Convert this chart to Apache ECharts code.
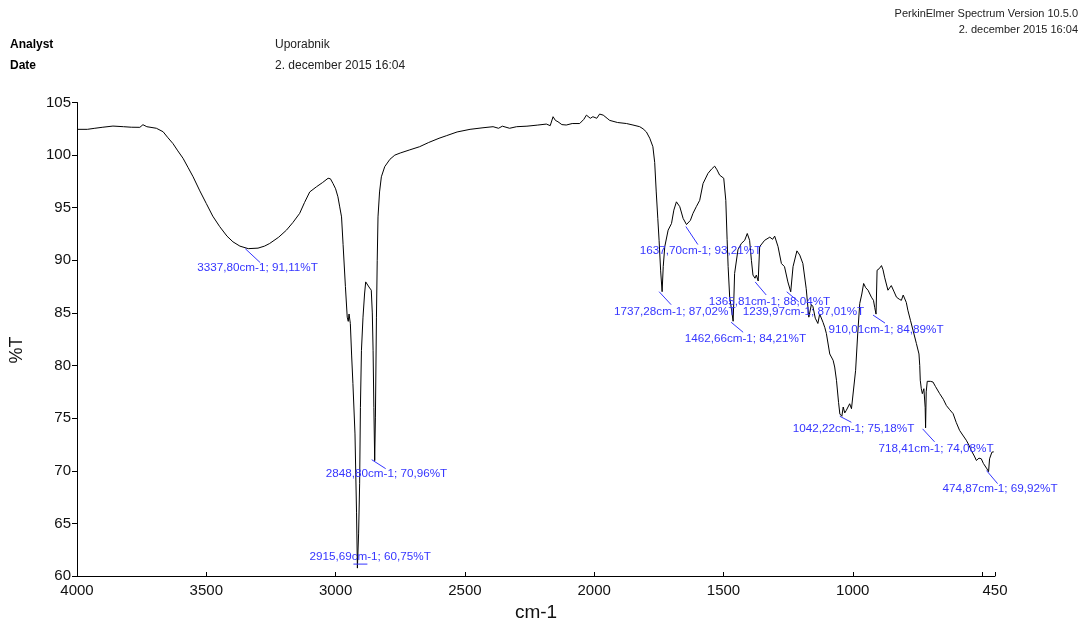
<!DOCTYPE html>
<html>
<head>
<meta charset="utf-8">
<script src="https://cdn.jsdelivr.net/npm/echarts@6/dist/echarts.min.js"></script>
<style>
html,body{margin:0;padding:0;background:#fff;}
#chart{width:1081px;height:618px;}
</style>
</head>
<body>
<div id="chart"></div>
<script>
// Spectrum trace (wavenumber cm-1, %T)
const wavenumbers = [4000,3960,3931,3900,3861,3820,3790,3757,3745,3730,3693,3667,3650,3629,3610,3590,3570,3551,3525,3500,3475,3448,3420,3397,3370,3337.8,3300,3275,3255,3220,3190,3165,3139,3120,3100,3074,3050,3029,3020,3010,3000,2991,2984,2977,2971,2962,2955,2951,2948,2943,2938,2933,2925,2919,2915.69,2911,2907,2904,2900,2894,2888,2883.6,2878.6,2871,2862,2858,2855,2852,2848.8,2846,2842,2839,2836,2830,2823,2810,2790,2771,2750,2713,2675,2640,2600,2572,2530,2480,2430,2391,2370,2355,2327,2300,2260,2220,2185,2170,2159,2150,2140,2125,2108,2085,2056,2040,2030,2015,2005,1990,1979,1965,1950,1940,1910,1875,1850,1824,1811,1798,1785,1773,1766,1760,1754,1749,1743,1737.28,1733,1727,1714,1701,1692,1682,1669,1656,1643,1637.7,1628,1618,1605,1592,1579,1560,1545,1534,1525,1515,1499,1491,1486,1482,1476,1470,1462.66,1460,1457,1444,1431,1418,1408,1399,1392,1386,1378,1373,1365.81,1360,1341,1321,1310,1302,1289,1276,1264,1251,1239.97,1231,1216,1205,1193,1180,1170,1160,1154,1145,1135,1128,1115,1108,1102,1089,1076,1070,1063,1055,1050,1042.22,1037,1031,1025,1018,1012,1005,999,989,981,973,965,958,950,941,928,920,915,910.01,906,898,889,883,877,864,851,840,831,820,812,805,799,793,787,777,767,754,744,741,739,735,731,725,720,718.41,716,712,709,700,690,680,664,650,638,625,612,600,587,575,561,550,542,530,522,512,503,495,481,474.87,471,462,455];
const transmittance = [102.45,102.45,102.55,102.65,102.76,102.7,102.65,102.64,102.89,102.7,102.55,102.22,101.7,101.1,100.4,99.7,98.8,97.94,96.6,95.4,94.2,93.2,92.3,91.76,91.35,91.11,91.16,91.35,91.6,92.2,92.87,93.6,94.46,95.5,96.5,96.99,97.4,97.8,97.75,97.3,96.8,96.04,95.08,94.13,91.5,87.5,84.6,84.2,84.9,84.0,81,78.3,73.5,66,60.75,64,68.77,76,81.45,84.6,86.8,87.95,88.1,87.47,87.16,85,81.45,76,70.96,75.1,84.6,90,94.13,96.5,97.94,98.9,99.6,100,100.2,100.5,100.8,101.2,101.6,101.84,102.2,102.45,102.6,102.7,102.55,102.75,102.55,102.7,102.75,102.85,102.95,102.8,103.65,103.3,103.17,102.9,102.86,103.0,103.0,103.4,103.8,103.5,103.65,103.5,103.9,103.8,103.5,103.3,103.1,103.0,102.86,102.7,102.5,102.2,101.6,100.8,99.3,96.5,94,91.9,89,87.02,89.4,91.3,92.87,93.5,94.77,95.56,95.1,93.98,93.4,93.21,93.8,94.46,95.1,95.7,97.3,98.26,98.7,98.95,98.6,98.1,97.8,95.7,92,89.4,86.5,85.5,84.21,86.2,88.75,91,91.6,91.9,92.55,91.9,90,88.6,88.3,88.6,88.04,91.3,91.9,92.2,92.0,92.3,91.3,89.7,89.4,87.95,87.01,89.4,90.9,90.5,89.7,87.3,84.6,85.8,85.6,84.5,84,84.9,84.1,83.6,83.04,81.1,80.5,79.86,78.6,76.5,75.4,75.18,76.06,75.5,75.74,75.9,76.37,75.9,76.06,79.55,83,85.9,86.8,87.8,87.4,87.16,86.5,86.2,85.5,84.89,89.06,89.2,89.5,89.1,88.4,87.16,87.6,87.0,86.5,86.3,86.2,86.7,86.8,86.0,85.26,84.3,83.35,82.1,81.1,80,78.6,77.8,77.33,77.8,76,74.08,77.5,78.5,78.6,78.5,78.44,78.0,77.33,76.8,76.2,75.8,75.43,74.6,73.84,73.4,72.9,72.4,71.94,71.4,70.98,71.2,71.14,70.7,70.18,69.92,71.14,71.77,71.8];

// Peak annotations
const peakWavenumbers = [3337.80, 2848.80, 2915.69, 1637.70, 1737.28, 1462.66, 1365.81, 1239.97, 910.01, 1042.22, 718.41, 474.87];
const peakTransmittance = [91.11, 70.96, 60.75, 93.21, 87.02, 84.21, 88.04, 87.01, 84.89, 75.18, 74.08, 69.92];

// Tick values
const xLabelValues = [4000, 3500, 3000, 2500, 2000, 1500, 1000, 450];
const xTickValues = [4000, 3500, 3000, 2500, 2000, 1500, 1000, 500, 450];

// Style: leader line [x1,y1,x2,y2] and text [left,y] offsets (px) relative to each peak
const labelOffsets = [
  [-3,0,12,14,-51,19],
  [-3,-1,11,8,-49,13],
  [-4,-4,10,-4,-48,-11.5],
  [-2,0,10,18,-48,24],
  [-3,0,9,13,-48,20],
  [-2,1,10,11,-48.5,18],
  [-3,1,8,14,-49.5,21],
  [-4,0,8,10,-48,20],
  [-3,1,9,9,-47.5,16],
  [-2,0,9.5,6,-49,13],
  [-3,1,9,14,-47,21],
  [-2,-1,9,12,-46,17]
];

const FONT = '"Liberation Sans", Arial, sans-serif';
const BLUE = '#3535ff';
const fmt = v => v.toFixed(2).replace('.', ',');

const spectrum = wavenumbers.map((w, i) => [w, transmittance[i]]);
const peaks = peakWavenumbers.map((w, i) => [w, peakTransmittance[i]]);

const chart = echarts.init(document.getElementById('chart'));
chart.setOption({
  animation: false,
  backgroundColor: '#fff',
  grid: { left: 77, right: 86, top: 102.5, bottom: 42, containLabel: false, outerBoundsMode: 'none' },
  xAxis: {
    type: 'value', inverse: true, min: 450, max: 4000,
    name: 'cm-1', nameLocation: 'middle', nameGap: 21,
    nameTextStyle: { fontFamily: FONT, fontSize: 19, color: '#111' },
    axisLine: { show: true, lineStyle: { color: '#000', width: 1 } },
    axisTick: { show: true, inside: true, length: 4, customValues: xTickValues, lineStyle: { color: '#000' } },
    axisLabel: { customValues: xLabelValues, formatter: v => String(v), fontFamily: FONT, fontSize: 15, color: '#111', margin: 7, showMinLabel: true, showMaxLabel: true },
    splitLine: { show: false }
  },
  yAxis: {
    type: 'value', min: 60, max: 105, interval: 5,
    axisLine: { show: true, lineStyle: { color: '#000', width: 1 } },
    axisTick: { show: true, inside: false, length: 5, lineStyle: { color: '#000' } },
    axisLabel: { fontFamily: FONT, fontSize: 15, color: '#111', margin: 6 },
    splitLine: { show: false }
  },
  graphic: [
    { type: 'text', left: 10, top: 39, style: { text: 'Analyst', font: 'bold 12px ' + FONT, fill: '#000' } },
    { type: 'text', left: 10, top: 60, style: { text: 'Date', font: 'bold 12px ' + FONT, fill: '#000' } },
    { type: 'text', left: 275, top: 39, style: { text: 'Uporabnik', font: '12px ' + FONT, fill: '#222' } },
    { type: 'text', left: 275, top: 60, style: { text: '2. december 2015 16:04', font: '12px ' + FONT, fill: '#222' } },
    { type: 'text', right: 3, top: 8, style: { text: 'PerkinElmer Spectrum Version 10.5.0', font: '11px ' + FONT, fill: '#222', align: 'right' } },
    { type: 'text', right: 3, top: 24, style: { text: '2. december 2015 16:04', font: '11px ' + FONT, fill: '#222', align: 'right' } },
    { type: 'text', x: 17.5, y: 350, rotation: Math.PI / 2, style: { text: '%T', font: '18px ' + FONT, fill: '#111', align: 'center', verticalAlign: 'middle' } }
  ],
  series: [
    {
      type: 'line', data: spectrum, showSymbol: false, symbol: 'none',
      lineStyle: { color: '#000', width: 1 }, silent: true, z: 2
    },
    {
      type: 'custom', data: peaks, clip: false, silent: true, z: 3,
      renderItem: function (params, api) {
        const i = params.dataIndex;
        const w = api.value(0), t = api.value(1);
        const p = api.coord([w, t]);
        const o = labelOffsets[i];
        return {
          type: 'group',
          children: [
            { type: 'line', shape: { x1: p[0] + o[0], y1: p[1] + o[1], x2: p[0] + o[2], y2: p[1] + o[3] },
              style: { stroke: BLUE, lineWidth: 1 } },
            { type: 'text', x: p[0] + o[4], y: p[1] + o[5],
              style: { text: fmt(w) + 'cm-1; ' + fmt(t) + '%T', fill: BLUE, font: '11.7px ' + FONT, verticalAlign: 'middle', align: 'left' } }
          ]
        };
      }
    }
  ]
});
</script>
</body>
</html>
